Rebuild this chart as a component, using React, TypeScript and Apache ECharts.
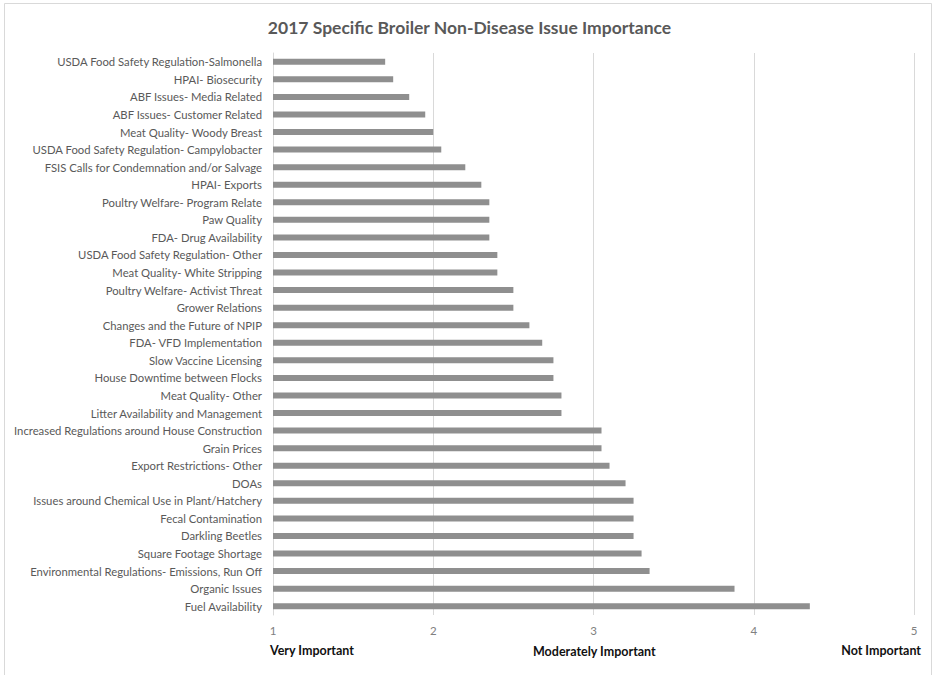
import React, { useEffect, useRef } from "react";
import * as echarts from "echarts";

const categories = [
  "USDA Food Safety Regulation-Salmonella",
  "HPAI- Biosecurity",
  "ABF Issues- Media Related",
  "ABF Issues- Customer Related",
  "Meat Quality- Woody Breast",
  "USDA Food Safety Regulation- Campylobacter",
  "FSIS Calls for Condemnation and/or Salvage",
  "HPAI- Exports",
  "Poultry Welfare- Program Relate",
  "Paw Quality",
  "FDA- Drug Availability",
  "USDA Food Safety Regulation- Other",
  "Meat Quality- White Stripping",
  "Poultry Welfare- Activist Threat",
  "Grower Relations",
  "Changes and the Future of NPIP",
  "FDA- VFD Implementation",
  "Slow Vaccine Licensing",
  "House Downtime between Flocks",
  "Meat Quality- Other",
  "Litter Availability and Management",
  "Increased Regulations around House Construction",
  "Grain Prices",
  "Export Restrictions- Other",
  "DOAs",
  "Issues around Chemical Use in Plant/Hatchery",
  "Fecal Contamination",
  "Darkling Beetles",
  "Square Footage Shortage",
  "Environmental Regulations- Emissions, Run Off",
  "Organic Issues",
  "Fuel Availability",
];

const importance = [
  1.7, 1.75, 1.85, 1.95, 2.0, 2.05, 2.2, 2.3, 2.35, 2.35, 2.35, 2.4, 2.4, 2.5,
  2.5, 2.6, 2.68, 2.75, 2.75, 2.8, 2.8, 3.05, 3.05, 3.1, 3.2, 3.25, 3.25, 3.25,
  3.3, 3.35, 3.88, 4.35,
];

const scaleLabels = ["Very Important", "Moderately Important", "Not Important"];

const FONT = "Lato, 'Liberation Sans', sans-serif";

export default function App() {
  const ref = useRef<HTMLDivElement>(null);
  useEffect(() => {
    if (!ref.current) return;
    const chart = echarts.init(ref.current, undefined, { renderer: "svg" });
    chart.setOption({
      animation: false,
      backgroundColor: "#ffffff",
      title: {
        text: "2017 Specific Broiler Non-Disease Issue Importance",
        left: "center",
        top: 13,
        textStyle: {
          fontFamily: FONT,
          fontSize: 17.5,
          fontWeight: "bold",
          color: "#595959",
        },
      },
      grid: { left: 273, right: 25, top: 53, bottom: 60 },
      xAxis: {
        type: "value",
        min: 1,
        max: 5,
        interval: 1,
        axisLine: { show: false },
        axisTick: { show: false },
        splitLine: { lineStyle: { color: "#d9d9d9", width: 1 } },
        axisLabel: {
          color: "#808080",
          fontFamily: FONT,
          fontSize: 11.5,
          margin: 9,
        },
      },
      yAxis: {
        type: "category",
        inverse: true,
        data: categories,
        axisLine: { show: true, lineStyle: { color: "#d9d9d9" } },
        axisTick: { show: false },
        axisLabel: {
          color: "#595959",
          fontFamily: FONT,
          fontSize: 11.3,
          margin: 11,
          interval: 0,
        },
      },
      series: [
        {
          type: "bar",
          data: importance,
          barWidth: 6,
          itemStyle: { color: "#8f8f8f" },
        },
      ],
      graphic: [
        {
          type: "rect",
          shape: { x: 4.5, y: 3.5, width: 927, height: 680 },
          style: { fill: "none", stroke: "#d9d9d9", lineWidth: 1 },
          silent: true,
        },
        {
          type: "text",
          left: 270,
          top: 644,
          style: {
            text: scaleLabels[0],
            fontFamily: FONT,
            fontSize: 12.5,
            fontWeight: "bold",
            fill: "#111111",
          },
        },
        {
          type: "text",
          left: 533,
          top: 645,
          style: {
            text: scaleLabels[1],
            fontFamily: FONT,
            fontSize: 12.5,
            fontWeight: "bold",
            fill: "#111111",
          },
        },
        {
          type: "text",
          right: 18,
          top: 644,
          style: {
            text: scaleLabels[2],
            fontFamily: FONT,
            fontSize: 12.5,
            fontWeight: "bold",
            fill: "#111111",
          },
        },
      ],
    });
    return () => chart.dispose();
  }, []);
  return (
    <div
      ref={ref}
      style={{ position: "fixed", left: 0, top: 0, width: 939, height: 675 }}
    />
  );
}
